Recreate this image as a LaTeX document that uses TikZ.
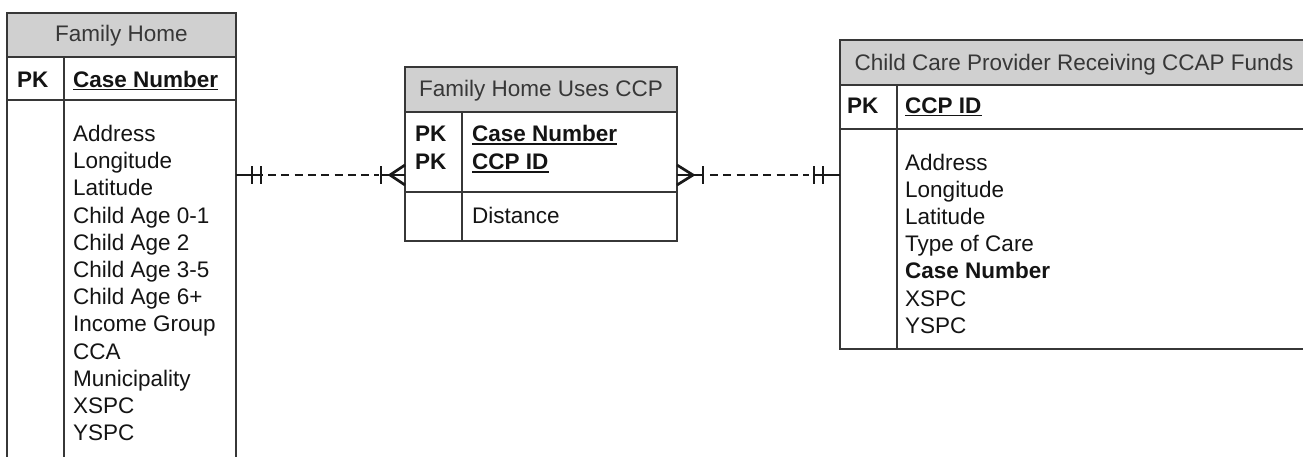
\documentclass[tikz,border=0pt]{standalone}
\usepackage{fontspec}
\setmainfont{Liberation Sans}
\usetikzlibrary{calc}
\definecolor{rule}{RGB}{55,55,55}
\definecolor{headfill}{RGB}{208,208,208}
\definecolor{ink}{RGB}{20,20,20}
\begin{document}
\begin{tikzpicture}[x=1pt,y=-1pt,
  frame/.style={draw=rule, line width=1.7pt, inner sep=0pt, outer sep=0pt, anchor=north west},
  head/.style={frame, fill=headfill},
  txt/.style={inner sep=0pt, anchor=base west, text=ink, font=\fontsize{22.5}{26}\selectfont},
  key/.style={txt, font=\fontsize{22.5}{26}\selectfont\bfseries},
  title/.style={inner sep=0pt, anchor=base, text=ink!85, font=\fontsize{22.5}{26}\selectfont},
  uline/.style={draw=ink, line width=1.5pt},
  divider/.style={draw=rule, line width=1.7pt},
  conn/.style={draw=black!90, line width=2.7pt},
  dashconn/.style={conn, dash pattern=on 8pt off 5.3pt},
]
\useasboundingbox (0,0) rectangle (1303,456);
\fill[white] (0,0) rectangle (1303,456);
\clip (0,0) rectangle (1303,456);

% ---- Family Home ----
\node[head,  minimum width=229pt, minimum height=44pt]  (fhHead) at (7,13)  {};
\node[frame, minimum width=229pt, minimum height=43pt]  (fhKey)  at (7,57)  {};
\node[frame, minimum width=229pt, minimum height=380pt] (fhBody) at (7,100) {};
\draw[divider] ([xshift=57pt]fhKey.north west) -- ([xshift=57pt]fhBody.south west);
\node[title] (fhTitle) at (121.5,41) {Family Home};
\node[key] (fhPK)   at (17,87) {PK};
\node[key] (fhCase) at (73,87) {Case Number};
\draw[uline] ($(fhCase.base west)+(0,2.5)$) -- ($(fhCase.base east)+(0,2.5)$);
\foreach \t [count=\i from 0] in {Address, Longitude, Latitude, Child Age 0-1,
    Child Age 2, Child Age 3-5, Child Age 6+, Income Group, CCA, Municipality, XSPC, YSPC}
  \node[txt] (fhA\i) at (73,141.5+27.2*\i) {\t};

% ---- Family Home Uses CCP ----
\node[head,  minimum width=272pt, minimum height=45pt] (mjHead) at (405,67)  {};
\node[frame, minimum width=272pt, minimum height=80pt] (mjKey)  at (405,112) {};
\node[frame, minimum width=272pt, minimum height=49pt] (mjBody) at (405,192) {};
\draw[divider] ([xshift=57pt]mjKey.north west) -- ([xshift=57pt]mjBody.south west);
\node[title] (mjTitle) at (541,96.5) {Family Home Uses CCP};
\node[key] (mjPK1)  at (415,141.5) {PK};
\node[key] (mjPK2)  at (415,169.5) {PK};
\node[key] (mjCase) at (472,141.5) {Case Number};
\node[key] (mjCcp)  at (472,169.5) {CCP ID};
\draw[uline] ($(mjCase.base west)+(0,2.5)$) -- ($(mjCase.base east)+(0,2.5)$);
\draw[uline] ($(mjCcp.base west)+(0,2.5)$) -- ($(mjCcp.base east)+(0,2.5)$);
\node[txt] (mjDist) at (472,223) {Distance};

% ---- Child Care Provider Receiving CCAP Funds ----
\node[head,  minimum width=468pt, minimum height=45pt]  (ccHead) at (840,40)  {};
\node[frame, minimum width=468pt, minimum height=44pt]  (ccKey)  at (840,85)  {};
\node[frame, minimum width=468pt, minimum height=220pt] (ccBody) at (840,129) {};
\draw[divider] ([xshift=57pt]ccKey.north west) -- ([xshift=57pt]ccBody.south west);
\node[title] (ccTitle) at (1074,70) {Child Care Provider Receiving CCAP Funds};
\node[key] (ccPK) at (847,113) {PK};
\node[key] (ccId) at (905,113) {CCP ID};
\draw[uline] ($(ccId.base west)+(0,2.5)$) -- ($(ccId.base east)+(0,2.5)$);
\foreach \t [count=\i from 0] in {Address, Longitude, Latitude, Type of Care}
  \node[txt] (ccA\i) at (905,170+27.2*\i) {\t};
\node[key] (ccA4) at (905,170+27.2*4) {Case Number};
\node[txt] (ccA5) at (905,170+27.2*5) {XSPC};
\node[txt] (ccA6) at (905,170+27.2*6) {YSPC};

% ---- relationships ----
\coordinate (lvl) at (0,175);
\coordinate (L0) at (fhBody.east |- lvl);
\coordinate (L1) at (mjKey.west |- lvl);
\coordinate (R0) at (mjKey.east |- lvl);
\coordinate (R1) at (ccBody.west |- lvl);

% Family Home (one and only one) to Family Home Uses CCP (one or many)
\draw[conn] (L0) -- ++(27,0);
\draw[conn] ($(L0)+(16,-9)$) -- ++(0,18);
\draw[conn] ($(L0)+(25,-9)$) -- ++(0,18);
\draw[dashconn] ($(L0)+(32,0)$) -- ($(L1)+(-26,0)$);
\draw[conn] ($(L1)+(-24,-9)$) -- ++(0,18);
\draw[conn] ($(L1)+(-24,0)$) -- (L1);
\draw[conn] ($(L1)+(0,-10)$) -- ($(L1)+(-15,0)$) -- ($(L1)+(0,10)$);

% Family Home Uses CCP (one or many) to provider (one and only one)
\draw[conn] (R0) -- ++(26,0);
\draw[conn] ($(R0)+(0,-10)$) -- ($(R0)+(16,0)$) -- ($(R0)+(0,10)$);
\draw[conn] ($(R0)+(26,-9)$) -- ++(0,18);
\draw[dashconn] ($(R0)+(33,0)$) -- ($(R1)+(-31,0)$);
\draw[conn] ($(R1)+(-26,0)$) -- (R1);
\draw[conn] ($(R1)+(-26,-9)$) -- ++(0,18);
\draw[conn] ($(R1)+(-17,-9)$) -- ++(0,18);
\end{tikzpicture}
\end{document}
